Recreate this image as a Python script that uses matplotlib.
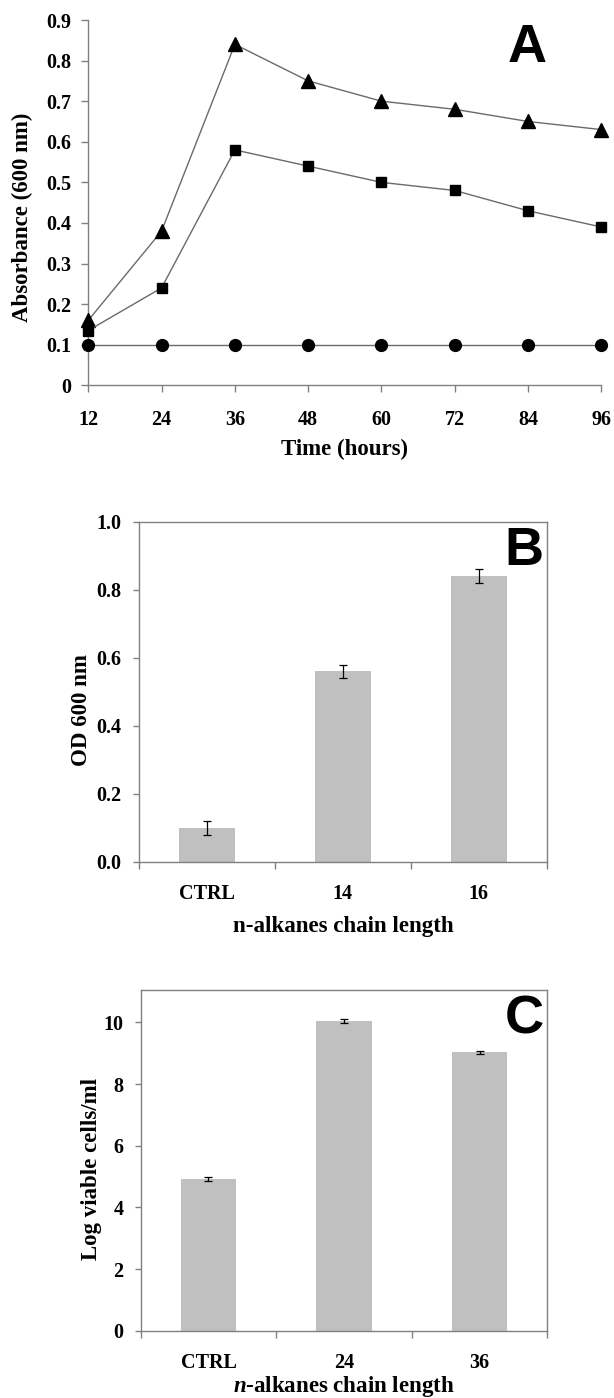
import matplotlib
matplotlib.use("Agg")
import matplotlib.pyplot as plt
import numpy as np

plt.rcParams["mathtext.fontset"] = "custom"
plt.rcParams["mathtext.rm"] = "Liberation Serif:bold"
plt.rcParams["mathtext.it"] = "Liberation Serif:italic:bold"
plt.rcParams["mathtext.bf"] = "Liberation Serif:bold"
plt.rcParams["mathtext.bfit"] = "Liberation Serif:italic:bold"

# ---- data ----
hours = [12, 24, 36, 48, 60, 72, 84, 96]
abs_triangle = [0.16, 0.38, 0.84, 0.75, 0.70, 0.68, 0.65, 0.63]
abs_square = [0.135, 0.24, 0.58, 0.54, 0.50, 0.48, 0.43, 0.39]
abs_circle = [0.10, 0.10, 0.10, 0.10, 0.10, 0.10, 0.10, 0.10]
a_yticks = [0, 0.1, 0.2, 0.3, 0.4, 0.5, 0.6, 0.7, 0.8, 0.9]
a_yticklabels = ["0", "0.1", "0.2", "0.3", "0.4", "0.5", "0.6", "0.7", "0.8", "0.9"]

b_categories = ["CTRL", "14", "16"]
b_values = [0.10, 0.56, 0.84]
b_errors = [0.02, 0.02, 0.02]

c_categories = ["CTRL", "24", "36"]
c_values = [4.92, 10.04, 9.03]
c_errors = [0.08, 0.06, 0.05]

SERIF = ["Liberation Serif", "DejaVu Serif"]
SANS = ["Liberation Sans", "DejaVu Sans"]
SPINE = "#808080"
BAR = "#c0c0c0"
TICK_FS = 14.5
LABEL_FS = 16.5

W, H = 614, 1398
fig = plt.figure(figsize=(W / 100, H / 100), dpi=100)


def rect(x0, y0, x1, y1):
    return [x0 / W, 1 - y1 / H, (x1 - x0) / W, (y1 - y0) / H]


def style_ticklabels(ax, size=TICK_FS):
    for lab in ax.get_xticklabels() + ax.get_yticklabels():
        lab.set_fontfamily(SERIF)
        lab.set_fontweight("bold")
        lab.set_fontsize(size)


# ---------- Panel A ----------
axA = fig.add_axes(rect(88.3, 20, 601.3, 385.3))
axA.plot(hours, abs_triangle, color="#6a6a6a", lw=1.0, marker="^", ms=10,
         mfc="black", mec="black", clip_on=False, zorder=3)
axA.plot(hours, abs_square, color="#6a6a6a", lw=1.0, marker="s", ms=7,
         mfc="black", mec="black", clip_on=False, zorder=3)
axA.plot(hours, abs_circle, color="#6a6a6a", lw=1.0, marker="o", ms=8.5,
         mfc="black", mec="black", clip_on=False, zorder=3)
axA.set_xlim(12, 96)
axA.set_ylim(0, 0.9)
axA.set_xticks(hours)
axA.set_yticks(a_yticks)
axA.set_yticklabels(a_yticklabels)
for s in ["top", "right"]:
    axA.spines[s].set_visible(False)
for s in ["left", "bottom"]:
    axA.spines[s].set_color(SPINE)
    axA.spines[s].set_linewidth(1.0)
axA.tick_params(axis="y", direction="out", length=5, width=1, color=SPINE, pad=7.5)
axA.tick_params(axis="x", direction="out", length=5, width=1, color=SPINE, pad=12.5)
style_ticklabels(axA)
axA.set_xlabel("Time (hours)", fontfamily=SERIF, fontweight="bold", fontsize=LABEL_FS, labelpad=7)
axA.set_ylabel("Absorbance (600 nm)", fontfamily=SERIF, fontweight="bold", fontsize=LABEL_FS)
axA.yaxis.set_label_coords(-0.108, 0.459)
axA.text(527 / W, 1 - 47.5 / H, "A", transform=fig.transFigure, ha="center", va="center",
         fontfamily=SANS, fontweight="bold", fontsize=39)


def bar_panel(ax, cats, vals, errs, ylim, yticks, fmt, xpad):
    x = np.arange(len(cats))
    ax.bar(x, vals, width=0.41, color=BAR, edgecolor="none", zorder=2)
    ax.errorbar(x, vals, yerr=errs, fmt="none", ecolor="black", elinewidth=0.9,
                capsize=3, capthick=0.9, zorder=3)
    ax.set_xlim(-0.5, len(cats) - 0.5)
    ax.set_ylim(*ylim)
    ax.set_yticks(yticks)
    ax.set_yticklabels([fmt.format(v) for v in yticks])
    ax.set_xticks(x)
    ax.set_xticklabels(cats)
    ax.set_xticks(np.arange(len(cats) + 1) - 0.5, minor=True)
    ax.tick_params(axis="x", which="major", length=0, pad=xpad)
    ax.tick_params(axis="x", which="minor", direction="out", length=5, width=1, color=SPINE)
    ax.tick_params(axis="y", direction="out", length=4, width=1, color=SPINE, pad=8.5)
    for s in ax.spines.values():
        s.set_color(SPINE)
        s.set_linewidth(1.0)
    style_ticklabels(ax)


# ---------- Panel B ----------
axB = fig.add_axes(rect(139, 521.7, 546.7, 861.7))
bar_panel(axB, b_categories, b_values, b_errors, (0, 1.0),
          [0.0, 0.2, 0.4, 0.6, 0.8, 1.0], "{:.1f}", 16)
axB.set_xlabel("n-alkanes chain length", fontfamily=SERIF, fontweight="bold",
               fontsize=LABEL_FS, labelpad=9)
axB.set_ylabel("OD 600 nm", fontfamily=SERIF, fontweight="bold", fontsize=LABEL_FS)
axB.yaxis.set_label_coords(-0.115, 0.446)
axB.text(524 / W, 1 - 551 / H, "B", transform=fig.transFigure, ha="center", va="center",
         fontfamily=SANS, fontweight="bold", fontsize=39)

# ---------- Panel C ----------
axC = fig.add_axes(rect(140.7, 990, 547.3, 1330.7))
bar_panel(axC, c_categories, c_values, c_errors, (0, 11.05),
          [0, 2, 4, 6, 8, 10], "{:d}", 16)
axC.set_xlabel(r"$\mathit{n}$-alkanes chain length", fontfamily=SERIF, fontweight="bold",
               fontsize=LABEL_FS, labelpad=0.5)
axC.set_ylabel("Log viable cells/ml", fontfamily=SERIF, fontweight="bold", fontsize=LABEL_FS)
axC.yaxis.set_label_coords(-0.095, 0.476)
axC.text(524 / W, 1 - 1019 / H, "C", transform=fig.transFigure, ha="center", va="center",
         fontfamily=SANS, fontweight="bold", fontsize=39)

fig.savefig("out.png", dpi=100)
